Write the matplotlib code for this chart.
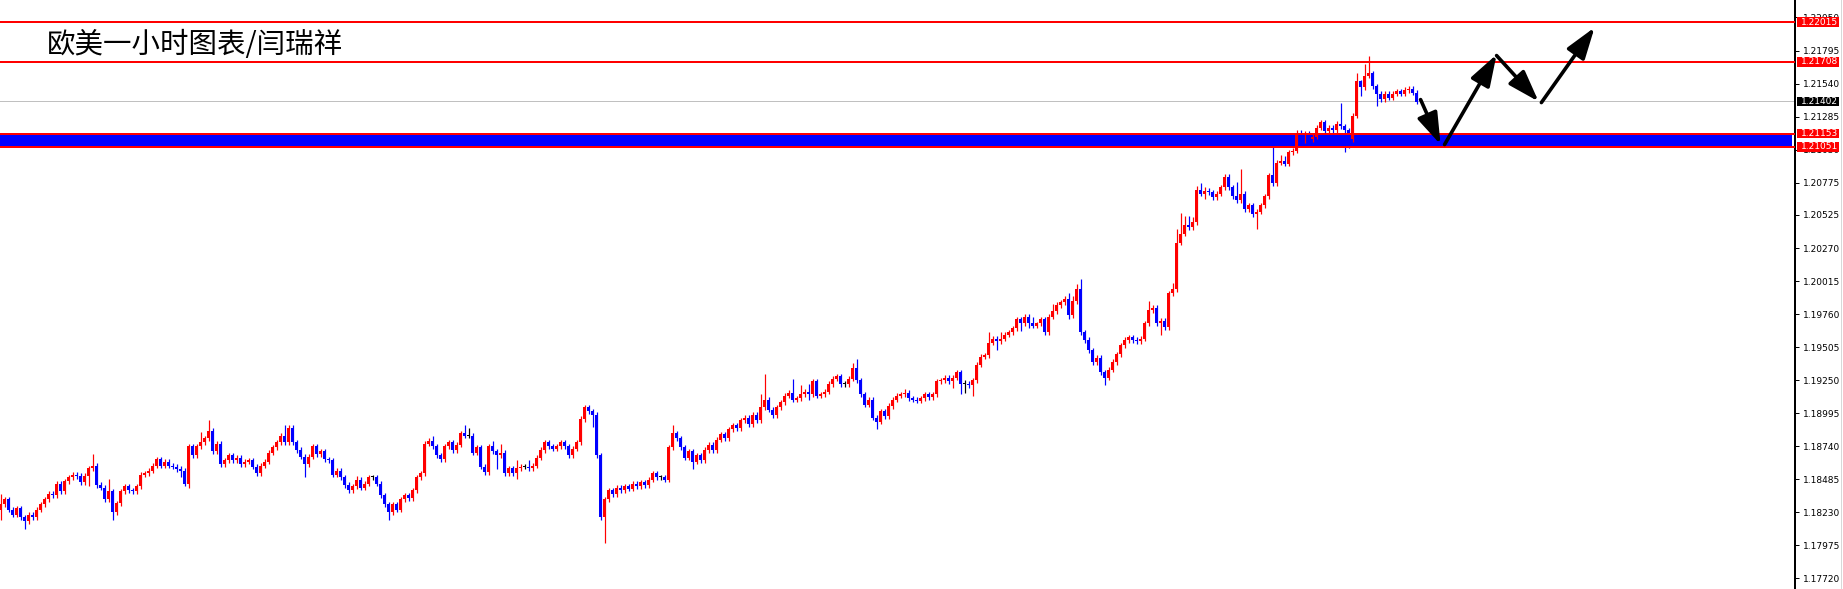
import matplotlib
matplotlib.use('Agg')
import matplotlib.pyplot as plt
import matplotlib.transforms as mtransforms
from matplotlib.patches import FancyArrowPatch, Rectangle
from matplotlib.lines import Line2D

# 欧美 1小时K线 (价格 = BASE + pips / 10000)
BASE = 1.17
FIRST_OPEN = 125
close_pips = [
    129, 133, 125, 121, 126, 119, 116, 121, 119, 125,
    129, 133, 137, 136, 145, 139, 147, 150, 152, 151,
    146, 151, 157, 159, 144, 142, 133, 139, 123, 130,
    139, 143, 140, 139, 143, 152, 153, 155, 159, 164,
    159, 162, 159, 158, 156, 155, 145, 174, 167, 174,
    177, 180, 186, 170, 176, 160, 163, 167, 163, 165,
    160, 162, 163, 158, 153, 159, 162, 169, 173, 177,
    182, 177, 188, 177, 171, 166, 160, 166, 174, 168,
    170, 164, 163, 152, 155, 150, 144, 140, 143, 148,
    142, 145, 150, 150, 145, 136, 129, 123, 129, 125,
    133, 136, 134, 140, 150, 153, 176, 178, 174, 167,
    164, 174, 177, 171, 175, 184, 182, 182, 169, 173,
    158, 154, 174, 170, 167, 169, 153, 157, 153, 157,
    158, 158, 157, 159, 165, 171, 177, 174, 172, 174,
    177, 174, 167, 172, 177, 195, 204, 201, 198, 167,
    119, 133, 140, 137, 142, 140, 143, 141, 145, 143,
    146, 144, 148, 153, 150, 150, 148, 173, 184, 180,
    173, 165, 170, 162, 167, 163, 171, 175, 171, 179,
    183, 180, 187, 190, 188, 194, 196, 191, 198, 194,
    204, 210, 202, 198, 204, 208, 213, 215, 210, 211,
    214, 216, 214, 224, 213, 214, 216, 222, 226, 228,
    222, 222, 226, 234, 225, 214, 206, 210, 196, 193,
    201, 197, 205, 210, 213, 214, 215, 211, 210, 209,
    211, 214, 212, 214, 224, 225, 227, 224, 227, 231,
    222, 222, 221, 225, 237, 243, 244, 254, 257, 255,
    257, 260, 262, 265, 272, 269, 274, 269, 267, 269,
    272, 262, 274, 278, 283, 285, 288, 275, 286, 295,
    262, 256, 248, 239, 242, 231, 227, 233, 239, 245,
    252, 256, 258, 256, 255, 257, 269, 279, 281, 269,
    271, 266, 292, 295, 331, 338, 345, 343, 347, 372,
    369, 371, 370, 366, 369, 374, 382, 374, 367, 364,
    369, 357, 360, 353, 355, 360, 367, 383, 377, 393,
    394, 392, 401, 402, 416, 414, 415, 411, 413, 420,
    424, 417, 420, 418, 423, 421, 418, 411, 429, 456,
    451, 460, 462, 452, 446, 442, 446, 443, 446, 448,
    446, 449, 450, 447, 440,
]
# 明显的上下影线
high_pips = {0: 137, 22: 159, 23: 168, 27: 149, 45: 159, 50: 185, 52: 194, 71: 190,
             89: 151, 108: 182, 116: 190, 117: 188, 123: 178, 125: 176, 129: 163,
             132: 163, 147: 206, 168: 190, 190: 214, 191: 230, 198: 226, 200: 221,
             202: 222, 213: 238, 214: 241, 226: 218, 241: 225, 247: 262, 250: 262,
             258: 274, 259: 270, 263: 284, 267: 292, 268: 290, 269: 299, 270: 303,
             287: 286, 293: 300, 294: 342, 295: 354, 296: 352, 297: 352, 298: 351,
             299: 375, 300: 377, 301: 374, 309: 378, 310: 388, 318: 405, 320: 399,
             321: 398, 324: 418, 334: 425, 335: 439, 339: 462, 340: 457, 341: 469,
             342: 475}
low_pips = {0: 117, 6: 110, 22: 143, 28: 117, 45: 150, 47: 142, 76: 150, 97: 117,
            117: 180, 124: 156, 129: 149, 148: 189, 151: 99, 173: 156, 202: 210,
            219: 187, 238: 219, 240: 214, 241: 215, 243: 213, 249: 248, 255: 263,
            257: 265, 267: 272, 276: 221, 290: 260, 300: 367, 301: 365, 314: 342,
            326: 408, 336: 401, 337: 404, 340: 444, 344: 437}

tick_values = [1.17720, 1.17975, 1.18230, 1.18485, 1.18740, 1.18995, 1.19250, 1.19505,
               1.19760, 1.20015, 1.20270, 1.20525, 1.20775, 1.21030, 1.21285, 1.21540,
               1.21795, 1.22050]
red_levels = [1.22015, 1.21708, 1.21153, 1.21051]
last_price = 1.21402
band = (1.21058, 1.21146)
title = '欧美一小时图表/闫瑞祥'
# 手画的走势箭头 (K线序号, 价格)
arrow_path = [((355, 1.21416), (360, 1.21069)),
              ((361, 1.21069), (374, 1.21764)),
              ((374, 1.21756), (384.5, 1.21401)),
              ((385.2, 1.21393), (398.5, 1.21973))]

W, H = 1843, 589
PX = 0.72  # 1 像素对应的点数

fig = plt.figure(figsize=(W / 100, H / 100), dpi=100)
ax = fig.add_axes([0, 0, 1795 / W, 1])
ax.set_xlim(-0.125, 448.6)
ax.set_ylim(1.17637, 1.22185)

opens = [FIRST_OPEN] + close_pips[:-1]
xs, lo_list, hi_list, bottoms, heights, colors = [], [], [], [], [], []
for i, (o, c) in enumerate(zip(opens, close_pips)):
    if c > o:
        col = '#ff0000'
    elif c < o:
        col = '#0000ff'
    else:
        col = '#000000'
    hi = high_pips.get(i, max(o, c) + 2)
    lo = low_pips.get(i, min(o, c) - 2)
    xs.append(i)
    hi_list.append(BASE + hi / 10000)
    lo_list.append(BASE + lo / 10000)
    bottoms.append(BASE + min(o, c) / 10000)
    heights.append(max(abs(c - o) / 10000, 0.00008))
    colors.append(col)

ax.axhspan(band[0], band[1], xmin=0, xmax=1792 / 1795, color='#0000ff', lw=0, zorder=1)
ax.vlines(xs, lo_list, hi_list, colors=colors, linewidth=1.2 * PX, zorder=3)
ax.bar(xs, heights, bottom=bottoms, width=0.78, color=colors, linewidth=0, zorder=3)

for p in red_levels:
    ax.axhline(p, color='#ff0000', lw=2 * PX, zorder=4)
ax.axhline(last_price, color='#c0c0c0', lw=PX, zorder=2)

for (x0, y0), (x1, y1) in arrow_path:
    ax.add_patch(FancyArrowPatch((x0, y0), (x1, y1),
                                 arrowstyle='-|>,head_length=1.2,head_width=0.4',
                                 mutation_scale=16, color='black', lw=2.6,
                                 shrinkA=0, shrinkB=0, zorder=5))

# 右侧价格轴
for s in ['left', 'top', 'bottom']:
    ax.spines[s].set_visible(False)
ax.spines['right'].set_color('black')
ax.spines['right'].set_linewidth(2 * PX)
ax.set_xticks([])
ax.yaxis.tick_right()
ax.set_yticks(tick_values)
ax.set_yticklabels([f'{t:.5f}' for t in tick_values])
ax.tick_params(axis='y', direction='out', length=3, width=PX, pad=3,
               labelsize=6.5, colors='black')

trans = mtransforms.blended_transform_factory(ax.transAxes, ax.transData)
box_w = 42 / 1795
box_h = 9.5 / 12952
for p, bg in [(p, '#ff0000') for p in red_levels] + [(last_price, '#000000')]:
    ax.add_patch(Rectangle((1.0012, p - box_h / 2), box_w, box_h, transform=trans,
                           facecolor=bg, edgecolor='none', clip_on=False, zorder=6))
    ax.text(1.0033, p, f'{p:.5f}', transform=trans, color='white', fontsize=6.5,
            va='center', ha='left', clip_on=False, zorder=7)

fig.add_artist(Line2D([1840.5 / W] * 2, [0, 1], color='#d8d8d8', lw=PX))

fig.text(47 / W, 1 - 45 / H, title, fontsize=20.5, va='center', ha='left',
         family=['Noto Sans CJK SC', 'DejaVu Sans'], color='black')

fig.savefig('out.png', dpi=100)
